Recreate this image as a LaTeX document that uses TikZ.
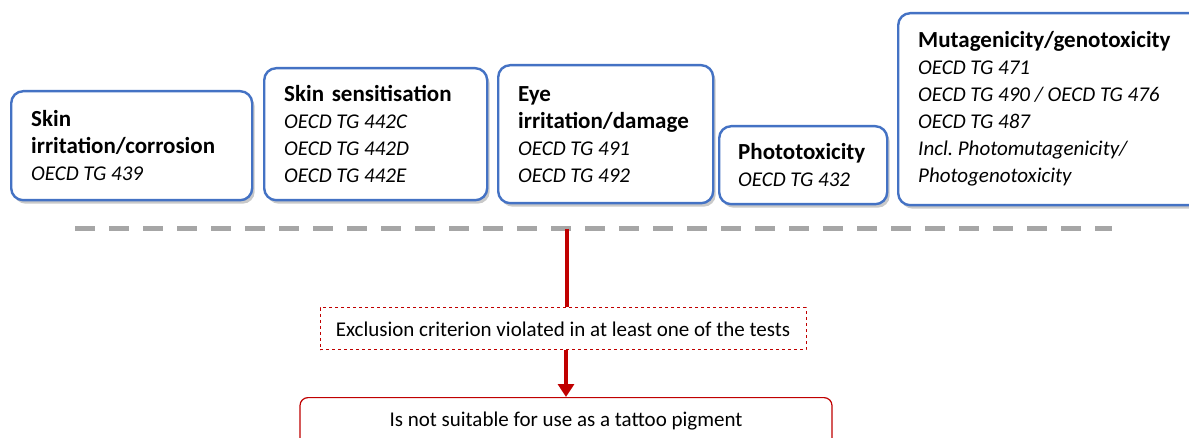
\documentclass[tikz,border=0pt]{standalone}
\usepackage{fontspec}
\setmainfont{Carlito}
\usetikzlibrary{shadows,arrows.meta}
\definecolor{boxblue}{HTML}{4472C4}
\definecolor{darkred}{HTML}{C00000}
\definecolor{dashgray}{HTML}{A6A6A6}
\newcommand{\boxfont}{\fontsize{23}{27}\selectfont\frenchspacing}
\newcommand{\lowfont}{\fontsize{21}{24}\selectfont\frenchspacing}
\newcommand{\ws}{\hspace{0.226em}}
\newcommand{\itl}[1]{{\fontsize{21}{27}\selectfont\itshape #1}}
\tikzset{
  testbox/.style={draw=boxblue, line width=2.4pt, rounded corners=12pt, fill=white,
    anchor=north west, inner xsep=20pt, inner ysep=0pt, align=left,
    font=\boxfont,
    drop shadow={shadow xshift=2.5pt, shadow yshift=-3.5pt, opacity=0.35, fill=black!60}},
  redline/.style={draw=darkred, line width=3.5pt},
  critbox/.style={draw=darkred, dashed, line width=1pt, inner sep=0pt, font=\lowfont},
  resultbox/.style={draw=darkred, line width=1.2pt, rounded corners=8pt, inner sep=0pt}
}
\begin{document}
\begin{tikzpicture}[x=1pt,y=-1pt]
\useasboundingbox[fill=white] (0,0) rectangle (1189,438);
% dashed separator
\coordinate (dl) at (75,229);
\coordinate (dr) at (1112,229);
\coordinate (dm) at (567,229);
\draw[dashgray, line width=5pt, dash pattern=on 20pt off 14pt] (dl) -- (dr);
% test boxes
\node[testbox, text width=201pt, minimum height=109pt] (b1) at (10,90)
  {\textbf{Skin}\\\textbf{irritation/corrosion}\\\itl{OECD\ws TG\ws 439}};
\node[testbox, text width=183pt, minimum height=132pt] (b2) at (263,67)
  {\textbf{Skin sensitisation}\\\itl{OECD\ws TG\ws 442C}\\\itl{OECD\ws TG\ws 442D}\\\itl{OECD\ws TG\ws 442E}};
\node[testbox, text width=175pt, minimum height=138pt] (b3) at (497,64)
  {\textbf{Eye}\\\textbf{irritation/damage}\\\itl{OECD\ws TG\ws 491}\\\itl{OECD\ws TG\ws 492}};
\node[testbox, text width=130pt, minimum height=78pt, inner xsep=19pt] (b4) at (718,125)
  {\textbf{Phototoxicity}\\\itl{OECD\ws TG\ws 432}};
\node[testbox, text width=290pt, minimum height=192pt] (b5) at (897,12)
  {\textbf{Mutagenicity/genotoxicity}\\\itl{OECD\ws TG\ws 471}\\\itl{OECD\ws TG\ws 490\ws /\ws OECD\ws TG\ws 476}\\\itl{OECD\ws TG\ws 487}\\\itl{Incl.\ws Photomutagenicity/}\\\itl{Photogenotoxicity}};
% criterion and result
\node[critbox, minimum width=486pt, minimum height=42pt] (crit) at (563,329)
  {Exclusion criterion violated in at least one of the tests};
\node[resultbox, minimum width=532pt, minimum height=70pt, anchor=north] (res) at (566,397) {};
\node[font=\lowfont] (restext) at (566,421) {Is not suitable for use as a tattoo pigment};
\draw[redline] (dm) -- (dm |- crit.north);
\draw[redline, -{Triangle[length=13pt,width=16pt]}] (res.north |- crit.south) -- (res.north);
\end{tikzpicture}
\end{document}
